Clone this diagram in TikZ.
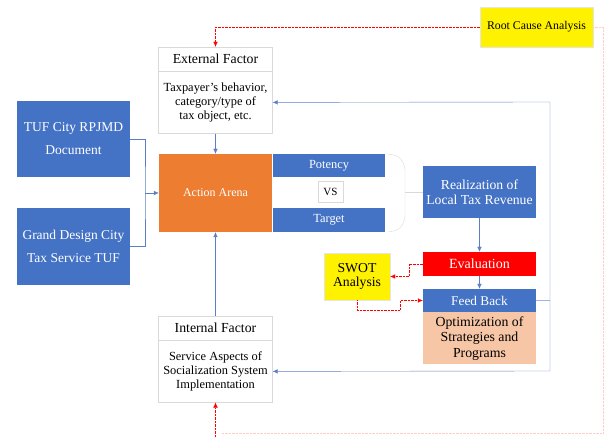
\documentclass[tikz,border=0pt]{standalone}
\usepackage{fontspec}
\setmainfont{Liberation Serif}
\usetikzlibrary{positioning,arrows.meta}

\definecolor{boxblue}{HTML}{4472C4}
\definecolor{arenaorange}{HTML}{ED7D31}
\definecolor{optpeach}{HTML}{F6C6A6}
\definecolor{linkblue}{HTML}{5B7FC4}

\tikzset{
  bluebox/.style={fill=boxblue, text=white, align=center, inner sep=1pt,
    font=\fontsize{12.4}{14}\selectfont},
  whitebox/.style={draw=black!15, fill=white, align=center, inner sep=1pt,
    minimum width=114pt, font=\fontsize{12.4}{14.3}\selectfont},
  headbox/.style={whitebox, font=\fontsize{13.8}{15}\selectfont},
  yellowbox/.style={fill=yellow, draw=black!10, align=center, inner sep=1pt,
    font=\fontsize{13.7}{14.7}\selectfont},
  flow/.style={draw=linkblue, -{Latex[length=5pt,width=4.5pt]}},
  reddot/.style={draw=red, densely dotted, -{Latex[length=5pt,width=4.5pt]}},
  faintdot/.style={draw=red!20, densely dotted},
  bracket/.style={draw=black!15, rounded corners=4pt}
}

\begin{document}
\begin{tikzpicture}[x=1pt,y=-1pt]
  \useasboundingbox (0,0) rectangle (606,438);

  % factors
  \node[headbox, minimum height=24pt] (extH) at (215.5,59) {External Factor};
  \node[whitebox, minimum height=62pt, below=0pt of extH] (extB)
       {Taxpayer's behavior,\\category/type of\\tax object, etc.};
  \node[headbox, minimum height=24pt] (intH) at (215.5,328) {Internal Factor};
  \node[whitebox, minimum height=62pt, below=0pt of intH] (intB)
       {Service Aspects of\\Socialization System\\Implementation};

  % documents
  \node[bluebox, minimum width=113pt, minimum height=76pt,
        font=\fontsize{13.5}{23}\selectfont] (tuf) at (73.5,139)
       {TUF City RPJMD\\Document};
  \node[bluebox, minimum width=113pt, minimum height=77pt,
        font=\fontsize{13.5}{23}\selectfont] (grand) at (73.5,246.5)
       {Grand Design City\\Tax Service TUF};

  % action arena
  \node[fill=arenaorange, text=white, minimum width=113pt, minimum height=78pt,
        font=\fontsize{12}{13}\selectfont] (arena) at (215.5,193) {Action Arena};
  \node[bluebox, minimum width=112pt, minimum height=23pt] (potency) at (329,165.5) {Potency};
  \node[draw=black!15, fill=white, minimum width=25pt, minimum height=21pt,
        inner sep=1pt, font=\fontsize{11}{12}\selectfont] (vs) at (330.5,191.5) {VS};
  \node[bluebox, minimum width=112pt, minimum height=24pt] (target) at (329,220) {Target};

  % revenue and evaluation
  \node[bluebox, minimum width=113pt, minimum height=52pt,
        font=\fontsize{13.7}{15}\selectfont] (real) at (479.5,192)
       {Realization of\\Local Tax Revenue};
  \node[fill=red, text=white, minimum width=113pt, minimum height=24pt, inner sep=1pt,
        font=\fontsize{14}{15}\selectfont] (eval) at (479.5,264) {Evaluation};
  \node[bluebox, minimum width=113pt, minimum height=23pt,
        font=\fontsize{13.3}{14}\selectfont] (feed) at (479.5,300.5) {Feed Back};
  \node[fill=optpeach, align=center, minimum width=113pt, minimum height=52pt,
        inner sep=1pt, font=\fontsize{13.8}{15.3}\selectfont, below=0pt of feed] (optim)
       {Optimization of\\Strategies and\\Programs};
  \node[yellowbox, minimum width=66pt, minimum height=47pt] (swot) at (357,276.5)
       {SWOT\\Analysis};
  \node[yellowbox, minimum width=113pt, minimum height=40pt,
        font=\fontsize{11.8}{13}\selectfont] (root) at (536.5,27) {Root Cause Analysis};

  % blue connectors
  \draw[flow] (extB.south) -- (arena.north);
  \draw[flow] (intH.north) -- (arena.south);
  \coordinate (join) at (145,193);
  \draw[draw=linkblue] (tuf.east) -| (join) |- (grand.east);
  \draw[flow] (join) -- (arena.west);
  \draw[flow] (real.south) -- (eval.north);
  \draw[flow] (eval.south) -- (feed.north);
  \coordinate (loopT) at (550,102);
  \coordinate (loopB) at (550,371);
  \draw[flow] (feed.east) -| (loopT) -- (extB.east);
  \draw[flow] (feed.east) -| (loopB) -- (intB.east);

  % bracket of potency vs target
  \draw[bracket] (388,154) -- (399,156) -- (405,166) -- (405,220) -- (399,230) -- (388,232);
  \draw[draw=black!15] (405,192) -- (real.west);

  % red dotted connectors
  \draw[reddot] (root.west) -| (extH.north);
  \coordinate (rcNE) at (603,27);
  \coordinate (rcSE) at (603,433);
  \coordinate (rcSW) at (222,433);
  \coordinate (rcBot) at (215.5,438);
  \draw[faintdot] (root.east) -- (rcNE) -- (rcSE) -- (rcSW);
  \draw[reddot] (rcBot) -- (intB.south);
  \draw[reddot] (eval.west) -- ++(-14,0) |- (swot.east);
  \draw[reddot] (swot.south) |- (400,310) |- (feed.west);
\end{tikzpicture}
\end{document}
